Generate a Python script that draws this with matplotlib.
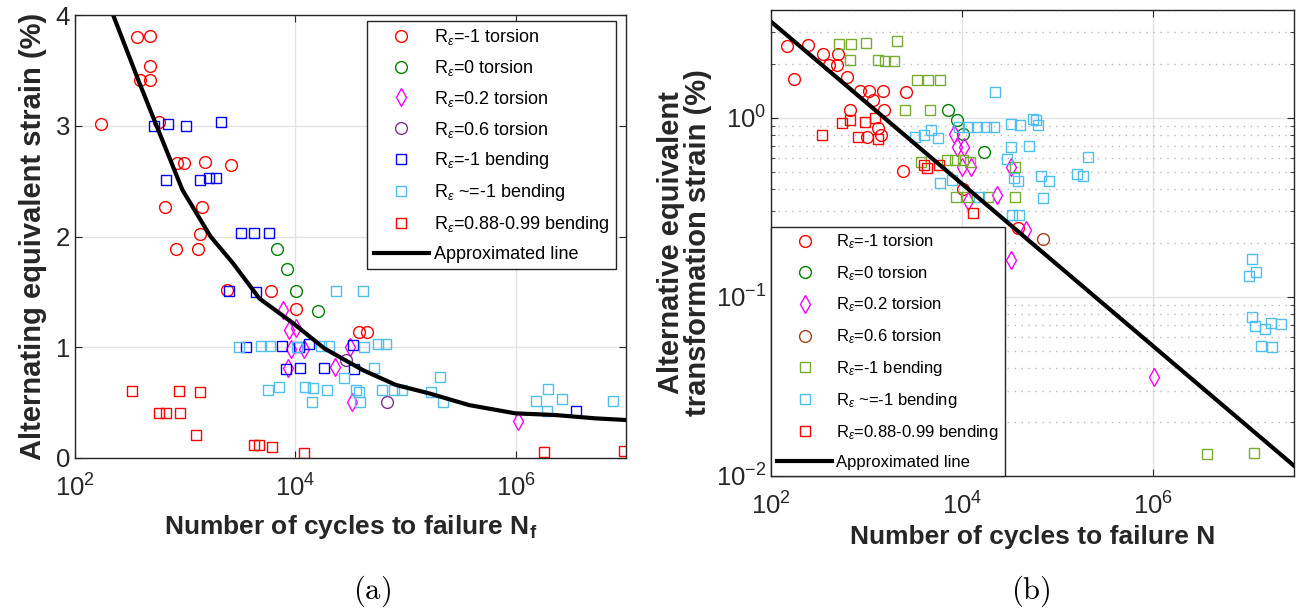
import matplotlib
matplotlib.use("Agg")
import matplotlib.pyplot as plt
from matplotlib import font_manager
from matplotlib.ticker import LogLocator, LogFormatterSciNotation, NullFormatter, NullLocator, FixedLocator

# ---------------- data : panel (a) ----------------
a_rm1_tor_N = [172, 366, 484, 484, 387, 484, 575, 843, 975, 1523, 2583, 661, 1429, 1352, 832, 1306, 2410, 6030, 10130, 37400, 44600]
a_rm1_tor_y = [3.02, 3.80, 3.81, 3.54, 3.41, 3.41, 3.03, 2.66, 2.66, 2.67, 2.65, 2.27, 2.27, 2.02, 1.89, 1.89, 1.52, 1.51, 1.345, 1.135, 1.135]
a_r0_tor_N = [6820, 8340, 10140, 16100]
a_r0_tor_y = [1.89, 1.71, 1.51, 1.33]
a_r02_tor_N = [7680, 8830, 10140, 9140, 12050, 8570, 22900, 31300, 32600, 1.04e6]
a_r02_tor_y = [1.336, 1.156, 1.17, 0.98, 0.98, 0.815, 0.825, 1.0, 0.503, 0.337]
a_r06_tor_N = [29100, 67600]
a_r06_tor_y = [0.885, 0.503]
a_rm1_bend_N = [519, 698, 1010, 2130, 676, 1352, 1632, 1914, 3220, 4250, 5820, 2490, 4400, 3580, 7570, 10700, 13400, 33000, 8240, 11000, 18300, 33700, 3.54e6]
a_rm1_bend_y = [3.0, 3.02, 3.0, 3.03, 2.51, 2.51, 2.525, 2.525, 2.03, 2.03, 2.03, 1.51, 1.5, 1.0, 1.01, 1.0, 1.027, 1.02, 0.80, 0.815, 0.815, 0.803, 0.424]
a_rnm1_bend_N = [3110, 4890, 5900, 10300, 17100, 20300, 23400, 40700, 5620, 7160, 12300, 14500, 19200, 14200, 27700, 42100, 56400, 66100, 51200, 35400, 37400, 38700, 61600, 78700, 92400, 170000, 207000, 218000, 1.51e6, 1.96e6, 1.92e6, 2.62e6, 7.55e6]
a_rnm1_bend_y = [1.0, 1.01, 1.01, 1.0, 1.01, 1.01, 1.51, 1.51, 0.614, 0.644, 0.644, 0.63, 0.614, 0.503, 0.72, 1.0, 1.03, 1.03, 0.81, 0.614, 0.6, 0.503, 0.614, 0.614, 0.614, 0.6, 0.73, 0.503, 0.515, 0.623, 0.427, 0.533, 0.515]
a_r088_bend_N = [330, 873, 1371, 575, 666, 891, 1245, 4170, 4720, 6150, 12100, 1.82e6, 9.6e6]
a_r088_bend_y = [0.608, 0.608, 0.593, 0.41, 0.41, 0.41, 0.208, 0.117, 0.117, 0.102, 0.048, 0.051, 0.063]
a_line_N = [222, 380, 540, 945, 1700, 2710, 4720, 9460, 18300, 40700, 81500, 163000, 376000, 994000, 2.29e6, 5.26e6, 1e7]
a_line_y = [4.0, 3.40, 3.02, 2.42, 2.0, 1.76, 1.44, 1.22, 0.99, 0.795, 0.66, 0.584, 0.478, 0.403, 0.388, 0.358, 0.343]

# ---------------- data : panel (b) ----------------
b_rm1_tor_N = [146, 172, 244, 350, 496, 399, 488, 616, 855, 1047, 1466, 1170, 2570, 667, 1500, 1320, 998, 1410, 2380, 10300, 38600]
b_rm1_tor_y = [2.51, 1.64, 2.56, 2.28, 2.28, 1.96, 1.96, 1.69, 1.42, 1.42, 1.41, 1.25, 1.39, 1.11, 1.11, 0.879, 0.785, 0.803, 0.507, 0.40, 0.241]
b_r0_tor_N = [7030, 8730, 10300, 17000]
b_r0_tor_y = [1.10, 0.975, 0.813, 0.647]
b_r02_tor_N = [8130, 8730, 10500, 9930, 12500, 11400, 22900, 32300, 46400, 32300, 1.03e6]
b_r02_tor_y = [0.813, 0.684, 0.684, 0.529, 0.529, 0.344, 0.372, 0.533, 0.237, 0.161, 0.0356]
b_r06_tor_N = [69500]
b_r06_tor_y = [0.211]
b_rm1_bend_N = [515, 683, 982, 2070, 667, 1320, 1560, 1940, 3330, 4350, 5850, 2510, 4630, 3700, 6920, 8450, 10100, 12100, 8590, 11200, 18500, 35600, 35600, 3.67e6, 1.14e7]
b_rm1_bend_y = [2.57, 2.57, 2.63, 2.68, 2.11, 2.11, 2.08, 2.08, 1.62, 1.62, 1.62, 1.10, 1.10, 0.564, 0.582, 0.582, 0.582, 0.564, 0.359, 0.359, 0.359, 0.359, 0.533, 0.0132, 0.0135]
b_rnm1_bend_N = [22000, 3200, 3950, 4700, 5520, 5850, 7740, 9160, 11400, 14300, 17700, 21600, 15100, 32300, 40200, 55400, 59200, 62500, 32100, 50400, 29200, 35100, 38600, 67700, 81500, 69500, 208000, 160000, 185000, 32900, 39500, 1.1e7, 1.19e7, 1.0e7, 1.1e7, 1.18e7, 1.48e7, 1.74e7, 2.17e7, 1.34e7, 1.78e7]
b_rnm1_bend_y = [1.39, 0.778, 0.806, 0.86, 0.773, 0.432, 0.451, 0.89, 0.89, 0.89, 0.89, 0.89, 0.359, 0.925, 0.906, 0.987, 0.966, 0.906, 0.69, 0.70, 0.589, 0.459, 0.441, 0.475, 0.441, 0.356, 0.601, 0.486, 0.475, 0.287, 0.287, 0.162, 0.138, 0.131, 0.077, 0.0686, 0.0663, 0.0716, 0.0707, 0.0535, 0.0523]
b_r088_bend_N = [340, 546, 667, 957, 1230, 815, 1320, 4000, 4240, 5660, 12900]
b_r088_bend_y = [0.803, 0.933, 0.966, 0.945, 1.0, 0.785, 0.762, 0.548, 0.525, 0.548, 0.294]
b_line_N = [1e2, 3e7]
b_line_y = [3.43, 0.0114]

labels = [r'R$_\epsilon$=-1 torsion', r'R$_\epsilon$=0 torsion', r'R$_\epsilon$=0.2 torsion',
          r'R$_\epsilon$=0.6 torsion', r'R$_\epsilon$=-1 bending', r'R$_\epsilon$ ~=-1 bending',
          r'R$_\epsilon$=0.88-0.99 bending', 'Approximated line']

# ---------------- fonts ----------------
avail = {f.name for f in font_manager.fontManager.ttflist}
sans = 'Liberation Sans' if 'Liberation Sans' in avail else 'DejaVu Sans'
narrow = 'Liberation Sans Narrow' if 'Liberation Sans Narrow' in avail else sans
plt.rcParams['font.family'] = [sans, 'DejaVu Sans']
plt.rcParams['mathtext.fontset'] = 'custom'
plt.rcParams['mathtext.rm'] = sans
plt.rcParams['mathtext.it'] = sans + ':italic'
plt.rcParams['mathtext.bf'] = sans + ':bold'

fig = plt.figure(figsize=(12.99, 6.16), dpi=100)
axA = fig.add_axes([0.0577, 0.2565, 0.4242, 0.7191])
axB = fig.add_axes([0.5938, 0.2273, 0.4024, 0.7565])

spine_c = '#262626'
mew = 1.0
TICK = 18.5
XLAB = 19
YLAB = 21

def style(ax):
    for s in ax.spines.values():
        s.set_color(spine_c)
        s.set_linewidth(1.0)
    ax.tick_params(which='both', direction='in', top=True, right=True, colors=spine_c,
                   labelcolor='#262626', labelsize=TICK)
    ax.tick_params(which='major', length=5)
    ax.tick_params(which='minor', length=3)
    ax.set_axisbelow(True)

# ---------------- panel (a) ----------------
ax = axA
ax.set_xscale('log')
ax.plot(a_rm1_tor_N, a_rm1_tor_y, 'o', mfc='none', mec='#FF0000', ms=8.5, mew=mew, label=labels[0])
ax.plot(a_r0_tor_N, a_r0_tor_y, 'o', mfc='none', mec='#008000', ms=8.5, mew=mew, label=labels[1])
ax.plot(a_r02_tor_N, a_r02_tor_y, 'd', mfc='none', mec='#FF00FF', ms=9, mew=mew, label=labels[2])
ax.plot(a_r06_tor_N, a_r06_tor_y, 'o', mfc='none', mec='#7E2F8E', ms=8.5, mew=mew, label=labels[3])
ax.plot(a_rm1_bend_N, a_rm1_bend_y, 's', mfc='none', mec='#0000FF', ms=6.8, mew=mew, label=labels[4])
ax.plot(a_rnm1_bend_N, a_rnm1_bend_y, 's', mfc='none', mec='#4DBEEE', ms=6.8, mew=mew, label=labels[5])
ax.plot(a_r088_bend_N, a_r088_bend_y, 's', mfc='none', mec='#FF0000', ms=6.8, mew=mew, label=labels[6])
ax.plot(a_line_N, a_line_y, '-', color='black', lw=3, label=labels[7])
ax.set_xlim(1e2, 1e7)
ax.set_ylim(0, 4)
ax.xaxis.set_major_locator(FixedLocator([1e2, 1e4, 1e6]))
ax.xaxis.set_major_formatter(LogFormatterSciNotation())
ax.xaxis.set_minor_locator(NullLocator())
ax.set_yticks([0, 1, 2, 3, 4])
ax.grid(True, which='major', color='#E3E3E3', lw=1.0)
style(ax)
ax.tick_params(axis='x', pad=12)
ax.set_xlabel(r'Number of cycles to failure N$_\mathbf{f}$', fontsize=XLAB, fontweight='bold',
              color='#262626', labelpad=8)
ax.set_ylabel('Alternating equivalent strain (%)', fontsize=YLAB, fontweight='bold', color='#262626',
              labelpad=6)
legA = ax.legend(loc='upper right', bbox_to_anchor=(0.982, 0.987), fontsize=13, frameon=True,
                 fancybox=False, edgecolor='#262626', framealpha=1, handlelength=3.1,
                 handletextpad=0.25, labelspacing=0.6, borderpad=0.35, borderaxespad=0)
legA.get_frame().set_linewidth(1.0)

# ---------------- panel (b) ----------------
ax = axB
ax.set_xscale('log')
ax.set_yscale('log')
ax.plot(b_rm1_tor_N, b_rm1_tor_y, 'o', mfc='none', mec='#FF0000', ms=8.5, mew=mew, label=labels[0])
ax.plot(b_r0_tor_N, b_r0_tor_y, 'o', mfc='none', mec='#008000', ms=8.5, mew=mew, label=labels[1])
ax.plot(b_r02_tor_N, b_r02_tor_y, 'd', mfc='none', mec='#FF00FF', ms=9, mew=mew, label=labels[2])
ax.plot(b_r06_tor_N, b_r06_tor_y, 'o', mfc='none', mec='#A0401A', ms=8.5, mew=mew, label=labels[3])
ax.plot(b_rm1_bend_N, b_rm1_bend_y, 's', mfc='none', mec='#77AC30', ms=6.8, mew=mew, label=labels[4])
ax.plot(b_rnm1_bend_N, b_rnm1_bend_y, 's', mfc='none', mec='#4DBEEE', ms=6.8, mew=mew, label=labels[5])
ax.plot(b_r088_bend_N, b_r088_bend_y, 's', mfc='none', mec='#FF0000', ms=6.8, mew=mew, label=labels[6])
ax.plot(b_line_N, b_line_y, '-', color='black', lw=3, label=labels[7])
ax.set_xlim(1e2, 3e7)
ax.set_ylim(1e-2, 4)
ax.xaxis.set_major_locator(FixedLocator([1e2, 1e4, 1e6]))
ax.xaxis.set_major_formatter(LogFormatterSciNotation())
ax.xaxis.set_minor_locator(NullLocator())
ax.yaxis.set_major_locator(LogLocator(base=10, numticks=10))
ax.yaxis.set_minor_locator(LogLocator(base=10, subs=range(2, 10), numticks=20))
ax.yaxis.set_minor_formatter(NullFormatter())
ax.grid(True, which='major', color='#E3E3E3', lw=1.0)
ax.grid(True, which='minor', axis='y', color='#B8B8B8', lw=1.0, linestyle=(0, (1, 4)))
style(ax)
ax.tick_params(axis='x', pad=12)
ax.set_xlabel('Number of cycles to failure N', fontsize=XLAB, fontweight='bold', color='#262626',
              labelpad=4)
ax.set_ylabel('Alternative equivalent\ntransformation strain (%)', fontsize=YLAB, fontweight='bold',
              color='#262626', labelpad=3, linespacing=0.95)
legB = ax.legend(loc='lower left', bbox_to_anchor=(0, 0), frameon=True,
                 fancybox=False, edgecolor='#262626', framealpha=1, handlelength=3.3,
                 handletextpad=0.25, labelspacing=0.78, borderpad=0.35, borderaxespad=0,
                 prop={'family': [narrow, 'DejaVu Sans'], 'size': 12})
legB.get_frame().set_linewidth(1.0)

# captions
fig.text(0.2865, 0.04, r'$\mathrm{(a)}$', ha='center', va='center', fontsize=22,
         math_fontfamily='cm')
fig.text(0.7935, 0.04, r'$\mathrm{(b)}$', ha='center', va='center', fontsize=22,
         math_fontfamily='cm')

fig.savefig('out.png', dpi=100)
